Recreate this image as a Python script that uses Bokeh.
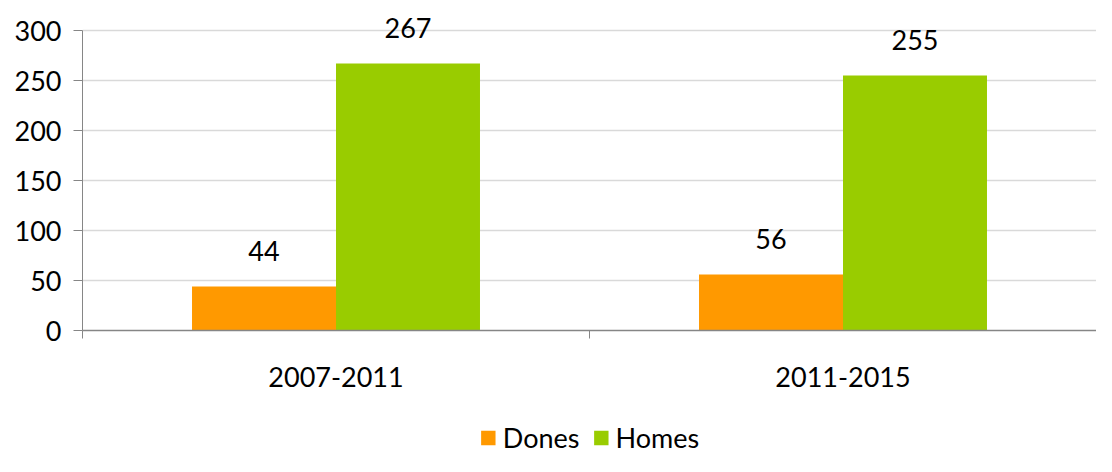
from bokeh.plotting import figure
from bokeh.layouts import column
from bokeh.models import (FixedTicker, Legend, LegendItem, ColumnDataSource,
                          Range1d)
from bokeh.transform import dodge
from bokeh.embed import file_html
from bokeh.resources import INLINE
from bokeh.core.properties import value

periods = ["2007-2011", "2011-2015"]
dones = [44, 56]
homes = [267, 255]
series_names = ["Dones", "Homes"]
y_ticks = [0, 50, 100, 150, 200, 250, 300]

FONT = "Lato"
FS = "27px"
ORANGE = "#FF9900"
GREEN = "#99CC00"
GRID = "#D9D9D9"
AXIS = "#868686"

pos = [i + 0.5 for i in range(len(periods))]
src = ColumnDataSource(dict(
    x=pos, dones=dones, homes=homes,
    dones_txt=[str(v) for v in dones], homes_txt=[str(v) for v in homes],
))

W = 0.284
p = figure(width=1096, height=418, x_range=Range1d(0, len(periods)),
           y_range=Range1d(0, 330), output_backend="svg",
           toolbar_location=None, min_border_left=82, min_border_top=0,
           min_border_right=0, min_border_bottom=88)
p.outline_line_color = None

r1 = p.vbar(x=dodge("x", -W / 2, range=p.x_range), top="dones", width=W,
            bottom=0, source=src, fill_color=ORANGE, line_color=None)
r2 = p.vbar(x=dodge("x", W / 2, range=p.x_range), top="homes", width=W,
            bottom=0, source=src, fill_color=GREEN, line_color=None)

p.text(x=dodge("x", -W / 2, range=p.x_range), y="dones", text="dones_txt",
       source=src, text_align="center", text_baseline="middle",
       y_offset=-36, text_font=value(FONT), text_font_size=FS,
       text_color="#000000")
p.text(x=dodge("x", W / 2, range=p.x_range), y="homes", text="homes_txt",
       source=src, text_align="center", text_baseline="middle",
       y_offset=-36, text_font=value(FONT), text_font_size=FS,
       text_color="#000000")

# y axis
p.yaxis.ticker = FixedTicker(ticks=y_ticks, minor_ticks=[])
p.yaxis.bounds = (0, 300)
p.yaxis.axis_line_color = AXIS
p.yaxis.major_tick_line_color = AXIS
p.yaxis.major_tick_out = 9
p.yaxis.major_tick_in = 0
p.yaxis.minor_tick_line_color = None
p.yaxis.major_label_standoff = 12
p.yaxis.major_label_text_font = FONT
p.yaxis.major_label_text_font_size = FS
p.yaxis.major_label_text_color = "#000000"
p.ygrid.grid_line_color = GRID
p.ygrid.grid_line_width = 1.5

# x axis: labels at category centres, ticks at category boundaries
p.xaxis.ticker = FixedTicker(ticks=pos,
                             minor_ticks=list(range(len(periods) + 1)))
p.xaxis.major_label_overrides = {pv: lab for pv, lab in zip(pos, periods)}
p.xaxis.axis_line_color = AXIS
p.xaxis.axis_line_width = 1.5
p.xaxis.major_tick_line_color = None
p.xaxis.minor_tick_line_color = AXIS
p.xaxis.minor_tick_out = 8
p.xaxis.minor_tick_in = 0
p.xaxis.major_tick_out = 8
p.xaxis.major_label_standoff = 28
p.xaxis.major_label_text_font = FONT
p.xaxis.major_label_text_font_size = FS
p.xaxis.major_label_text_color = "#000000"
p.xgrid.grid_line_color = None

# legend strip: a small figure whose view lies far away from the bars (so
# the key renderers themselves are never seen) holding the centred legend
pl = figure(width=1096, height=38, output_backend="svg",
            toolbar_location=None, x_axis_location=None,
            y_axis_location=None, min_border_left=82, min_border_right=0,
            min_border_top=0, min_border_bottom=0,
            x_range=Range1d(10, 11), y_range=Range1d(1000, 1001))
pl.outline_line_color = None
pl.grid.grid_line_color = None
l1 = pl.vbar(x="x", top="dones", bottom=0, width=W, source=src,
             fill_color=ORANGE, line_color=None)
l2 = pl.vbar(x="x", top="homes", bottom=0, width=W, source=src,
             fill_color=GREEN, line_color=None)
legend = Legend(items=[LegendItem(label=series_names[0], renderers=[l1]),
                       LegendItem(label=series_names[1], renderers=[l2])],
                orientation="horizontal", location="center",
                label_text_font=FONT, label_text_font_size=FS,
                label_text_color="#000000", glyph_width=18, glyph_height=18,
                label_standoff=6, spacing=12, padding=2, margin=0,
                border_line_color=None, background_fill_alpha=0)
pl.add_layout(legend)

layout = column(p, pl, spacing=0)
open("out.html", "w").write(file_html(layout, INLINE))
